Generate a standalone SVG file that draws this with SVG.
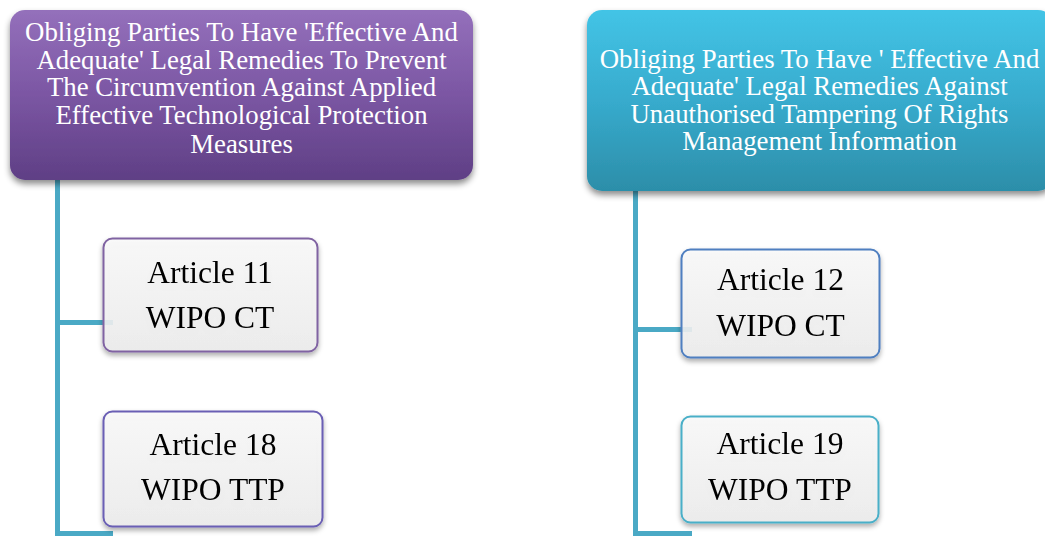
<svg xmlns="http://www.w3.org/2000/svg" width="1045" height="536" viewBox="0 0 1045 536">
<style>
.hdr{font-family:"Liberation Serif","Times New Roman",serif;font-size:26.8px;fill:#ffffff;text-anchor:middle}
.art{font-family:"Liberation Serif","Times New Roman",serif;font-size:31.5px;fill:#000000;text-anchor:middle}
.conn{stroke:#4aa9c5;stroke-width:5;fill:none}
.child{filter:url(#shadowS)}
</style>
<defs>
<linearGradient id="gPurple" x1="0" y1="0" x2="0" y2="1">
<stop offset="0" stop-color="#9470bb"/>
<stop offset="0.5" stop-color="#7b56a3"/>
<stop offset="1" stop-color="#5f3f85"/>
</linearGradient>
<linearGradient id="gTeal" x1="0" y1="0" x2="0" y2="1">
<stop offset="0" stop-color="#43c4e6"/>
<stop offset="0.5" stop-color="#37abcd"/>
<stop offset="1" stop-color="#2c8ea9"/>
</linearGradient>
<linearGradient id="gLight" x1="0" y1="0" x2="0" y2="1">
<stop offset="0" stop-color="#fbfbfb"/>
<stop offset="1" stop-color="#eeeeee"/>
</linearGradient>
<filter id="shadowL" x="-10%" y="-10%" width="120%" height="130%">
<feDropShadow dx="0" dy="4" stdDeviation="3" flood-color="#000" flood-opacity="0.45"/>
</filter>
<filter id="shadowS" x="-10%" y="-10%" width="120%" height="130%">
<feDropShadow dx="0" dy="3" stdDeviation="2.5" flood-color="#000" flood-opacity="0.35"/>
</filter>
</defs>
<g id="connectors">
<path class="conn" d="M57.5 180 V536 M57.5 322.5 H113 M57.5 533.5 H113"/>
<path class="conn" d="M635.5 191 V536 M635.5 329.5 H692 M635.5 533.5 H692"/>
</g>
<g id="header-left">
<rect x="10" y="10" width="463" height="170" rx="15" fill="url(#gPurple)" filter="url(#shadowL)"/>
<text class="hdr"><tspan x="241.5" y="41">Obliging Parties To Have 'Effective And</tspan><tspan x="241.5" y="68.7">Adequate' Legal Remedies To Prevent</tspan><tspan x="241.5" y="96.4">The Circumvention Against Applied</tspan><tspan x="241.5" y="124.1">Effective Technological Protection</tspan><tspan x="241.5" y="153">Measures</tspan></text>
</g>
<g id="header-right">
<rect x="587" y="10" width="466" height="181" rx="15" fill="url(#gTeal)" filter="url(#shadowL)"/>
<text class="hdr"><tspan x="819.5" y="67.5">Obliging Parties To Have ' Effective And</tspan><tspan x="819.5" y="95">Adequate' Legal Remedies Against</tspan><tspan x="819.5" y="122.5">Unauthorised Tampering Of Rights</tspan><tspan x="819.5" y="150">Management Information</tspan></text>
</g>
<g id="art11" class="child">
<rect x="103.5" y="238.5" width="214" height="113" rx="9" fill="url(#gLight)" fill-opacity="0.88" stroke="#8064a2" stroke-width="2"/>
<text class="art"><tspan x="210" y="283">Article 11</tspan><tspan x="210" y="328">WIPO CT</tspan></text>
</g>
<g id="art18" class="child">
<rect x="103.5" y="411.5" width="219" height="115" rx="9" fill="url(#gLight)" fill-opacity="0.88" stroke="#6a5fb4" stroke-width="2"/>
<text class="art"><tspan x="213" y="455">Article 18</tspan><tspan x="213" y="500">WIPO TTP</tspan></text>
</g>
<g id="art12" class="child">
<rect x="681.5" y="249.5" width="198" height="108" rx="9" fill="url(#gLight)" fill-opacity="0.88" stroke="#4f7fc0" stroke-width="2"/>
<text class="art"><tspan x="780.5" y="290">Article 12</tspan><tspan x="780.5" y="336">WIPO CT</tspan></text>
</g>
<g id="art19" class="child">
<rect x="681.5" y="416.5" width="197" height="106" rx="9" fill="url(#gLight)" fill-opacity="0.88" stroke="#4aafc8" stroke-width="2"/>
<text class="art"><tspan x="780" y="454">Article 19</tspan><tspan x="780" y="500">WIPO TTP</tspan></text>
</g>
</svg>
